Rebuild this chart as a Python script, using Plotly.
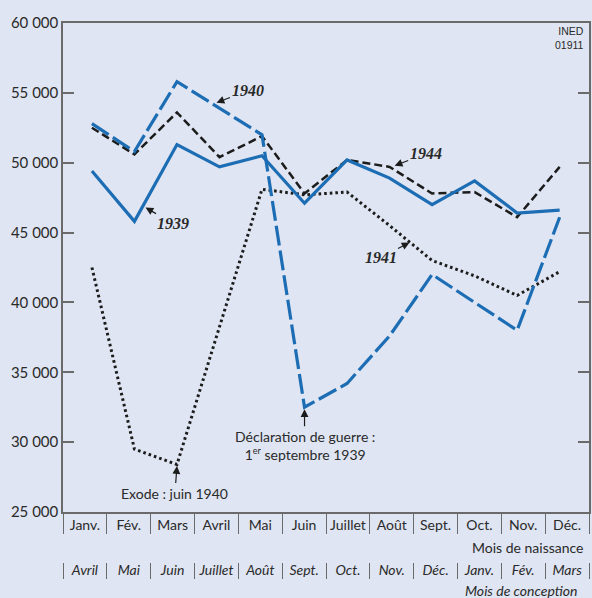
import plotly.graph_objects as go

# ---- data ----
birth_months = ["Janv.", "Fév.", "Mars", "Avril", "Mai", "Juin", "Juillet", "Août",
                "Sept.", "Oct.", "Nov.", "Déc."]
conception_months = ["Avril", "Mai", "Juin", "Juillet", "Août", "Sept.", "Oct.", "Nov.",
                     "Déc.", "Janv.", "Fév.", "Mars"]
births_1939 = [49400, 45800, 51300, 49700, 50500, 47100, 50200, 48900, 47000, 48700, 46400, 46600]
births_1940 = [52800, 50800, 55800, 53900, 52000, 32500, 34200, 37600, 42000, 40000, 38000, 46100]
births_1941 = [42500, 29500, 28400, 38300, 48100, 47700, 47900, 45500, 43000, 41900, 40500, 42200]
births_1944 = [52500, 50600, 53600, 50400, 51900, 47800, 50200, 49700, 47800, 47900, 46100, 49700]
y_tickvals = [25000, 30000, 35000, 40000, 45000, 50000, 55000, 60000]
y_ticktext = ["25 000", "30 000", "35 000", "40 000", "45 000", "50 000", "55 000", "60 000"]

BLUE = "#1d6db4"
BLACK = "#1c1c1c"
BG = "#dfe5f2"
AX = "#6a6a6a"
TXT = "#2a2a2a"

idx = list(range(len(birth_months)))

fig = go.Figure()
fig.add_trace(go.Scatter(x=idx, y=births_1941, mode="lines",
                         line=dict(color=BLACK, width=3, dash="2.6px,3px"), name="1941"))
fig.add_trace(go.Scatter(x=idx, y=births_1944, mode="lines",
                         line=dict(color=BLACK, width=2.5, dash="8px,4px"), name="1944"))
fig.add_trace(go.Scatter(x=idx, y=births_1939, mode="lines",
                         line=dict(color=BLUE, width=3.2), name="1939"))
fig.add_trace(go.Scatter(x=idx, y=births_1940, mode="lines",
                         line=dict(color=BLUE, width=3.2, dash="20px,5px"), name="1940"))
# carriers for the two month-label axes (no visible marks)
fig.add_trace(go.Scatter(x=idx, y=[None] * len(idx), mode="lines", xaxis="x2",
                         hoverinfo="skip", showlegend=False))
fig.add_trace(go.Scatter(x=idx, y=[None] * len(idx), mode="lines", xaxis="x3",
                         hoverinfo="skip", showlegend=False))

n = len(birth_months)
bounds = [k - 0.5 for k in range(n + 1)]

fig.update_layout(
    width=592, height=598,
    margin=dict(l=63, r=1, t=23, b=18),
    paper_bgcolor=BG, plot_bgcolor=BG,
    showlegend=False,
    font=dict(family="Lato, Noto Sans, sans-serif", color=TXT),
    xaxis=dict(range=[-0.68, 11.69], showgrid=False, zeroline=False,
               showticklabels=False, ticks="", showline=True, mirror=True,
               linecolor=AX, linewidth=1.5),
    xaxis2=dict(overlaying="x", anchor="y", side="bottom", range=[-0.5, n - 0.5],
                tickmode="array", tickvals=idx, ticktext=birth_months,
                ticks="outside", ticklen=0, showgrid=False, zeroline=False,
                showline=False, tickfont=dict(size=14, color=TXT),
                minor=dict(tickmode="array", tickvals=bounds, ticks="outside",
                           ticklen=21, tickcolor=AX, tickwidth=1.3, showgrid=False)),
    xaxis3=dict(overlaying="x", anchor="free", position=0.0323, side="bottom",
                range=[-0.5, n - 0.5],
                tickmode="array", tickvals=idx, ticktext=conception_months,
                ticks="outside", ticklen=0, ticklabelstandoff=-5,
                showgrid=False, zeroline=False,
                showline=False, tickfont=dict(size=14, color=TXT, style="italic"),
                minor=dict(tickmode="array", tickvals=bounds, ticks="outside",
                           ticklen=16, tickcolor=AX, tickwidth=1.3, showgrid=False)),
    yaxis=dict(domain=[0.1221, 1], range=[25000, 60000], tickmode="array",
               tickvals=y_tickvals, ticktext=y_ticktext, ticks="inside", ticklen=11,
               tickcolor=AX, tickwidth=1.5, showline=True, mirror="ticks",
               linecolor=AX, linewidth=1.5, showgrid=False, zeroline=False,
               tickfont=dict(size=15, color=TXT)),
)

ann_font = dict(family="Liberation Serif, DejaVu Serif, serif", size=16, color=TXT)
arrow = dict(showarrow=True, arrowhead=2, arrowsize=1.3, arrowwidth=1.2, arrowcolor=BLACK,
             xref="x", yref="y")
fig.add_annotation(text="<b><i>1940</i></b>", x=2.93, y=54290, ax=31, ay=-12, font=ann_font, **arrow)
fig.add_annotation(text="<b><i>1944</i></b>", x=7.12, y=49786, ax=31, ay=-12, font=ann_font, **arrow)
fig.add_annotation(text="<b><i>1939</i></b>", x=1.26, y=46786, ax=28, ay=16, font=ann_font, **arrow)
fig.add_annotation(text="<b><i>1941</i></b>", x=7.47, y=44286, ax=-29, ay=15, font=ann_font, **arrow)
fig.add_annotation(text="Déclaration de guerre :<br>1<sup><span style='font-size:9px'>er</span></sup> septembre 1939",
                   x=5, y=32357, ax=0, ay=36, font=dict(size=14, color=TXT), **arrow)
fig.add_annotation(text="Exode : juin 1940", x=2, y=28286, ax=-2, ay=27,
                   font=dict(size=14, color=TXT), **arrow)

fig.add_annotation(text="Mois de naissance", xref="paper", yref="paper", x=0.994, y=0.0592,
                   xanchor="right", yanchor="middle", showarrow=False,
                   font=dict(size=14, color=TXT))
fig.add_annotation(text="<i>Mois de conception</i>", xref="paper", yref="paper", x=0.983, y=-0.018,
                   xanchor="right", yanchor="middle", showarrow=False,
                   font=dict(size=14, color=TXT))
fig.add_annotation(text="INED<br>01911", xref="paper", yref="paper", x=0.994, y=0.973,
                   xanchor="right", yanchor="middle", align="right", showarrow=False,
                   font=dict(family="Liberation Sans Narrow, Liberation Sans, sans-serif",
                             size=10.5, color=TXT))

fig.write_html("out.html", config={"displayModeBar": False},
               post_script="document.body.style.margin='0';document.body.style.overflow='hidden';")
